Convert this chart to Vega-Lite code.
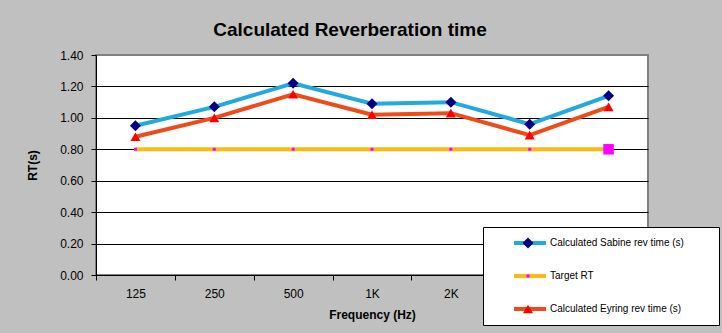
{
  "$schema": "https://vega.github.io/schema/vega-lite/v6.json",
  "width": 552,
  "height": 220,
  "autosize": {"type": "none"},
  "padding": {"left": 96, "top": 55, "right": 74, "bottom": 58},
  "background": "#C0C0C0",
  "title": {
    "text": "Calculated Reverberation time",
    "font": "Liberation Sans",
    "fontSize": 19,
    "fontWeight": "bold",
    "color": "black",
    "frame": "group",
    "anchor": "middle",
    "dx": -22,
    "offset": 9
  },
  "data": {
    "values": [
      {"freq": "125", "series": "Calculated Sabine rev time (s)", "value": 0.95},
      {"freq": "250", "series": "Calculated Sabine rev time (s)", "value": 1.07},
      {"freq": "500", "series": "Calculated Sabine rev time (s)", "value": 1.22},
      {"freq": "1K", "series": "Calculated Sabine rev time (s)", "value": 1.09},
      {"freq": "2K", "series": "Calculated Sabine rev time (s)", "value": 1.10},
      {"freq": "4K", "series": "Calculated Sabine rev time (s)", "value": 0.96},
      {"freq": "8K", "series": "Calculated Sabine rev time (s)", "value": 1.14},
      {"freq": "125", "series": "Target RT", "value": 0.80},
      {"freq": "250", "series": "Target RT", "value": 0.80},
      {"freq": "500", "series": "Target RT", "value": 0.80},
      {"freq": "1K", "series": "Target RT", "value": 0.80},
      {"freq": "2K", "series": "Target RT", "value": 0.80},
      {"freq": "4K", "series": "Target RT", "value": 0.80},
      {"freq": "8K", "series": "Target RT", "value": 0.80},
      {"freq": "125", "series": "Calculated Eyring rev time (s)", "value": 0.88},
      {"freq": "250", "series": "Calculated Eyring rev time (s)", "value": 1.00},
      {"freq": "500", "series": "Calculated Eyring rev time (s)", "value": 1.15},
      {"freq": "1K", "series": "Calculated Eyring rev time (s)", "value": 1.02},
      {"freq": "2K", "series": "Calculated Eyring rev time (s)", "value": 1.03},
      {"freq": "4K", "series": "Calculated Eyring rev time (s)", "value": 0.89},
      {"freq": "8K", "series": "Calculated Eyring rev time (s)", "value": 1.07}
    ]
  },
  "encoding": {
    "x": {
      "field": "freq",
      "type": "nominal",
      "sort": ["125", "250", "500", "1K", "2K", "4K", "8K"],
      "scale": {"type": "band", "paddingInner": 0, "paddingOuter": 0},
      "axis": {
        "title": "Frequency (Hz)",
        "labelAngle": 0,
        "grid": false,
        "tickBand": "extent",
        "tickSize": 5,
        "labelPadding": 8,
        "titlePadding": 10
      }
    },
    "y": {
      "field": "value",
      "type": "quantitative",
      "scale": {"domain": [0, 1.4], "nice": false},
      "axis": {
        "title": "RT(s)",
        "values": [0, 0.2, 0.4, 0.6, 0.8, 1.0, 1.2, 1.4],
        "format": ".2f",
        "grid": true,
        "gridColor": {"condition": {"test": "datum.value >= 1.39", "value": "#808080"}, "value": "black"},
        "tickSize": 5,
        "labelPadding": 8,
        "titlePadding": 20
      }
    }
  },
  "layer": [
    {
      "mark": {"type": "line", "strokeWidth": 4},
      "encoding": {
        "stroke": {
          "field": "series",
          "type": "nominal",
          "sort": ["Calculated Sabine rev time (s)", "Target RT", "Calculated Eyring rev time (s)"],
          "scale": {"range": ["#22AADD", "#FDB913", "#EE4A1A"]},
          "legend": {
            "orient": "none",
            "legendX": 387,
            "legendY": 172,
            "title": ".",
            "titleOrient": "right",
            "titleOpacity": 0,
            "titleFontSize": 10,
            "titlePadding": 26,
            "fillColor": "white",
            "strokeColor": "black",
            "padding": 6,
            "clipHeight": 20,
            "rowPadding": 13,
            "symbolType": "stroke",
            "symbolSize": 1024,
            "symbolStrokeWidth": 4,
            "symbolOffset": 23,
            "labelOffset": 2,
            "labelFont": "Liberation Sans",
            "labelFontSize": 10,
            "labelColor": "black",
            "labelLimit": 400
          }
        }
      }
    },
    {
      "mark": {"type": "point", "filled": true, "opacity": 1, "strokeWidth": 0},
      "encoding": {
        "fill": {
          "field": "series",
          "type": "nominal",
          "scale": {
            "domain": ["Calculated Sabine rev time (s)", "Target RT", "Calculated Eyring rev time (s)"],
            "range": ["#000080", "#FF00FF", "#FF0000"]
          },
          "legend": {
            "orient": "none",
            "legendX": 387,
            "legendY": 172,
            "title": null,
            "padding": 6,
            "clipHeight": 20,
            "rowPadding": 13,
            "symbolOffset": 33.5,
            "symbolStrokeWidth": 0,
            "labelExpr": "''"
          }
        },
        "shape": {
          "field": "series",
          "type": "nominal",
          "scale": {
            "domain": ["Calculated Sabine rev time (s)", "Target RT", "Calculated Eyring rev time (s)"],
            "range": ["diamond", "square", "triangle-up"]
          }
        },
        "size": {
          "condition": {"test": "datum.series === 'Target RT' && datum.freq === '8K'", "value": 110},
          "field": "series",
          "type": "nominal",
          "scale": {
            "type": "ordinal",
            "domain": ["Calculated Sabine rev time (s)", "Target RT", "Calculated Eyring rev time (s)"],
            "range": [121, 9, 100]
          }
        }
      }
    }
  ],
  "config": {
    "font": "Liberation Sans",
    "view": {"fill": "white", "stroke": "#808080", "strokeWidth": 2},
    "axis": {
      "domainColor": "black",
      "tickColor": "black",
      "labelColor": "black",
      "labelFont": "Liberation Sans",
      "labelFontSize": 12,
      "titleFont": "Liberation Sans",
      "titleFontSize": 12,
      "titleFontWeight": "bold",
      "titleColor": "black",
      "gridWidth": 1,
      "gridOpacity": 1
    }
  }
}
